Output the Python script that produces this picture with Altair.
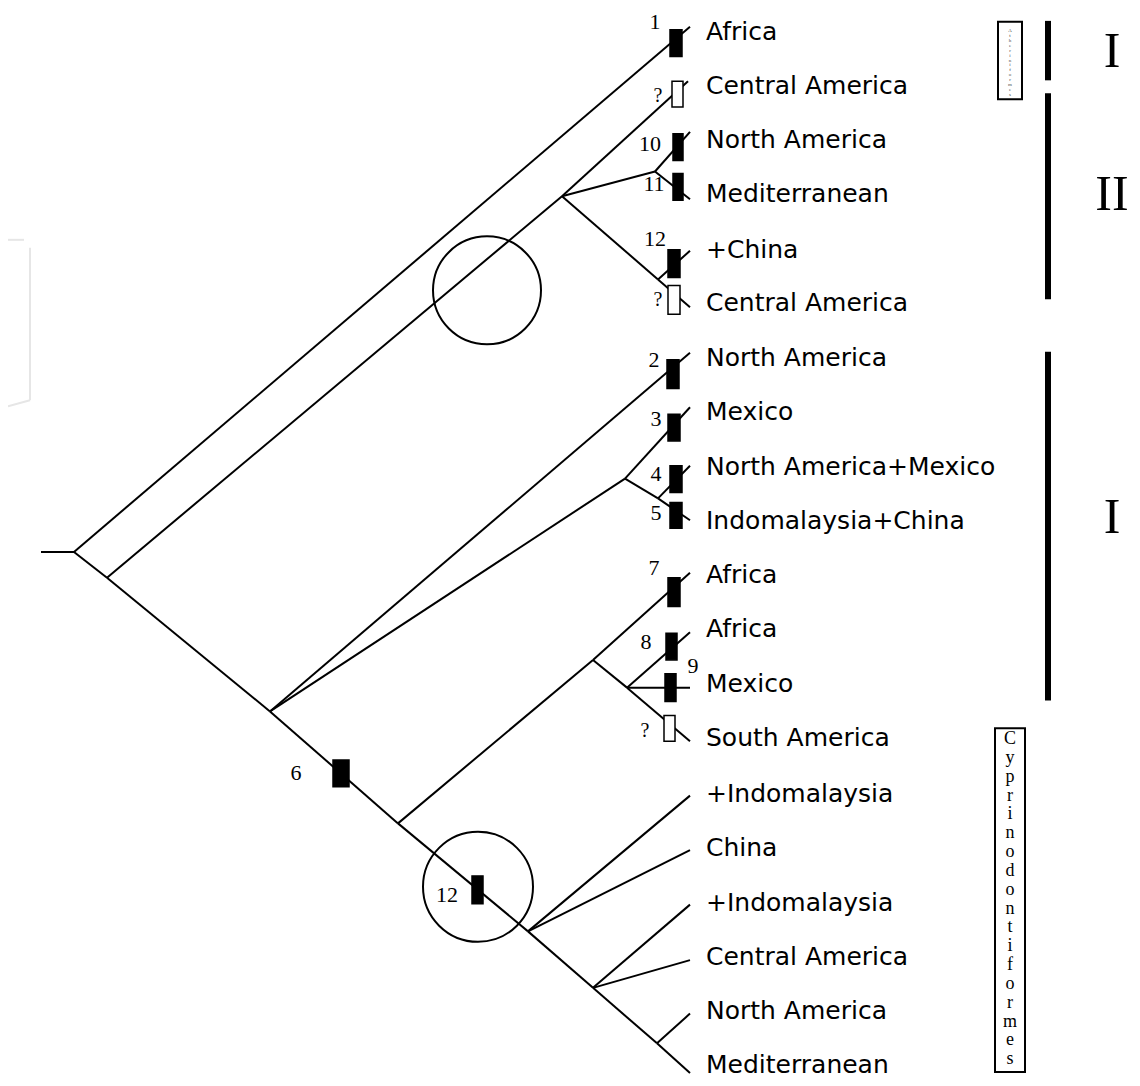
import altair as alt
import pandas as pd

# ---------------- data ----------------
# tree nodes (x = horizontal position, y = vertical position, page units)
node_names = ["stub", "R", "N1", "NA", "N1011", "N12", "N2", "N3", "N4", "N5", "NAf", "NB", "N7", "N8", "N9",
              "t_af1", "t_ca1", "t_na1", "t_med1", "t_chi1", "t_ca2",
              "t_na2", "t_mex1", "t_namex", "t_indchi", "t_af2", "t_af3", "t_mex2", "t_sam",
              "t_ind1", "t_chi2", "t_ind2", "t_ca3", "t_na3", "t_med2"]
node_x = [41, 74, 107, 562, 655, 658, 270, 625, 658, 398, 593, 627, 528, 593, 657,
          690, 688, 690, 690, 690, 690,
          690, 690, 690, 690, 690, 690, 690, 690,
          690, 690, 690, 690, 690, 690]
node_y = [557, 557, 583, 198, 173, 282, 718, 483, 503, 831, 666, 694, 940, 997, 1053,
          27, 82, 133, 201, 253, 310,
          356, 411, 470, 525, 578, 638, 694, 748,
          803, 858, 913, 969, 1023, 1083]

edge_parent = ["stub", "R", "R", "N1", "NA", "NA", "N1011", "N1011", "NA", "N12", "N12",
               "N1", "N2", "N2", "N3", "N3", "N4", "N4",
               "N2", "N5", "NAf", "NAf", "NB", "NB", "NB",
               "N5", "N7", "N7", "N7", "N8", "N8", "N8", "N9", "N9"]
edge_child = ["R", "t_af1", "N1", "NA", "t_ca1", "N1011", "t_na1", "t_med1", "N12", "t_chi1", "t_ca2",
              "N2", "t_na2", "N3", "t_mex1", "N4", "t_namex", "t_indchi",
              "N5", "NAf", "t_af2", "NB", "t_af3", "t_mex2", "t_sam",
              "N7", "t_ind1", "t_chi2", "N8", "t_ind2", "t_ca3", "N9", "t_na3", "t_med2"]

# leaf labels
leaf_labels = ["Africa", "Central America", "North America", "Mediterranean", "+China", "Central America",
               "North America", "Mexico", "North America+Mexico", "Indomalaysia+China", "Africa", "Africa",
               "Mexico", "South America", "+Indomalaysia", "China", "+Indomalaysia", "Central America",
               "North America", "Mediterranean"]
leaf_y = [32, 87, 141, 196, 252, 306, 361, 416, 471, 526, 580, 635, 690, 745, 801, 856, 911, 966, 1020, 1075]

# character boxes (synapomorphies)
box_x1 = [670, 672, 673, 673, 668, 668, 667, 668, 670, 670, 668, 666, 665, 664, 333, 472]
box_x2 = [682, 683, 683, 683, 680, 680, 679, 680, 682, 682, 680, 677, 676, 675, 349, 483]
box_y1 = [30, 82, 135, 175, 252, 288, 363, 418, 470, 507, 583, 639, 680, 722, 767, 884]
box_y2 = [57, 108, 162, 202, 280, 317, 392, 445, 497, 533, 612, 666, 708, 748, 794, 912]
box_filled = [True, False, True, True, True, False, True, True, True, True, True, True, True, False, True, True]

# character numbers
num_text = ["1", "?", "10", "11", "12", "?", "2", "3", "4", "5", "7", "8", "9", "?", "6", "12"]
num_x = [655, 658, 650, 654, 655, 658, 654, 656, 656, 656, 654, 646, 693, 645, 296, 447]
num_y = [22, 97, 145, 186, 241, 303, 363, 423, 478, 518, 573, 648, 672, 738, 780, 903]

# circles
circle_x = [487, 478]
circle_y = [293, 895]
circle_r = [54, 55]

# clade bars and roman numerals
bar_y1 = [21, 94, 355]
bar_y2 = [81, 302, 707]
roman = ["I", "II", "I"]
roman_y = [52, 197, 523]

group_name = "Cyprinodontiformes"
small_name = "Atheriniformes"

# ---------------- build tables ----------------
pos = {n: (x, y) for n, x, y in zip(node_names, node_x, node_y)}
edges = pd.DataFrame({
    "x": [pos[p][0] for p in edge_parent],
    "y": [pos[p][1] for p in edge_parent],
    "x2": [pos[c][0] for c in edge_child],
    "y2": [pos[c][1] for c in edge_child],
})
leaves = pd.DataFrame({"label": leaf_labels, "x": [706] * len(leaf_labels), "y": leaf_y})
boxes = pd.DataFrame({"x": box_x1, "x2": box_x2, "y": box_y1, "y2": box_y2,
                      "fill": ["black" if f else "white" for f in box_filled]})
nums = pd.DataFrame({"t": num_text, "x": num_x, "y": num_y,
                     "fs": [20 if t == "?" else 22 for t in num_text]})
circles = pd.DataFrame({"x": circle_x, "y": circle_y, "s": [(2 * r) ** 2 for r in circle_r]})
bars = pd.DataFrame({"x": [1045] * 3, "x2": [1051] * 3, "y": bar_y1, "y2": bar_y2})
romans = pd.DataFrame({"t": roman, "x": [1112] * 3, "y": roman_y})
letters = pd.DataFrame({"t": list(group_name), "x": [1010] * len(group_name),
                        "y": [746 + 19 * i for i in range(len(group_name))]})
small_letters = pd.DataFrame({"t": list(small_name), "x": [1010] * len(small_name),
                              "y": [30 + 5 * i for i in range(len(small_name))]})
frames = pd.DataFrame({"x": [995, 998], "x2": [1025, 1022], "y": [735, 22], "y2": [1082, 100]})
wm = pd.DataFrame({"x": [8, 30, 30], "y": [242, 250, 404], "x2": [24, 30, 8], "y2": [242, 404, 410]})

# page-pixel mapping: chart area starts at the 8px page margin
W, H = 1124, 1070
xs = alt.Scale(domain=[8, 8 + W], nice=False, zero=False)
ys = alt.Scale(domain=[8, 1088], nice=False, zero=False, reverse=True)


def X(f="x"):
    return alt.X(f"{f}:Q", scale=xs, axis=None)


def Y(f="y"):
    return alt.Y(f"{f}:Q", scale=ys, axis=None)


watermark = alt.Chart(wm).mark_rule(color="#e6e6e6", strokeWidth=2).encode(
    x=X(), y=Y(), x2="x2:Q", y2="y2:Q")

tree = alt.Chart(edges).mark_rule(color="black", strokeWidth=2).encode(
    x=X(), y=Y(), x2="x2:Q", y2="y2:Q")

circ = alt.Chart(circles).mark_point(shape="circle", filled=False, color="black",
                                     strokeWidth=2, opacity=1).encode(
    x=X(), y=Y(), size=alt.Size("s:Q", scale=None, legend=None))

box = alt.Chart(boxes).mark_rect(stroke="black", strokeWidth=1.5).encode(
    x=X(), y=Y(), x2="x2:Q", y2="y2:Q", fill=alt.Fill("fill:N", scale=None))

leaf_txt = alt.Chart(leaves).mark_text(align="left", baseline="middle", font="DejaVu Sans",
                                       fontSize=25, color="black").encode(
    x=X(), y=Y(), text="label:N")

num_txt = alt.Chart(nums).mark_text(align="center", baseline="middle", font="Liberation Serif",
                                    color="black").encode(
    x=X(), y=Y(), text="t:N", size=alt.Size("fs:Q", scale=None, legend=None))

bar = alt.Chart(bars).mark_rect(color="black").encode(x=X(), y=Y(), x2="x2:Q", y2="y2:Q")

roman_txt = alt.Chart(romans).mark_text(align="center", baseline="middle", font="Liberation Serif",
                                        fontSize=50, color="black").encode(
    x=X(), y=Y(), text="t:N")

frame = alt.Chart(frames).mark_rect(fill="white", stroke="black", strokeWidth=2).encode(
    x=X(), y=Y(), x2="x2:Q", y2="y2:Q")

letter_txt = alt.Chart(letters).mark_text(align="center", baseline="middle", font="Liberation Serif",
                                          fontSize=18, color="black").encode(
    x=X(), y=Y(), text="t:N")

small_txt = alt.Chart(small_letters).mark_text(align="center", baseline="middle", font="Liberation Serif",
                                               fontSize=5, color="#444444").encode(
    x=X(), y=Y(), text="t:N")

chart = alt.layer(watermark, tree, circ, box, leaf_txt, num_txt, bar, roman_txt, frame, letter_txt,
                  small_txt).properties(
    width=W, height=H, padding=0, autosize=alt.AutoSizeParams(type="none"),
    background="white"
).configure_view(stroke=None)

chart.save("out.html", embed_options={"renderer": "svg", "actions": False})
